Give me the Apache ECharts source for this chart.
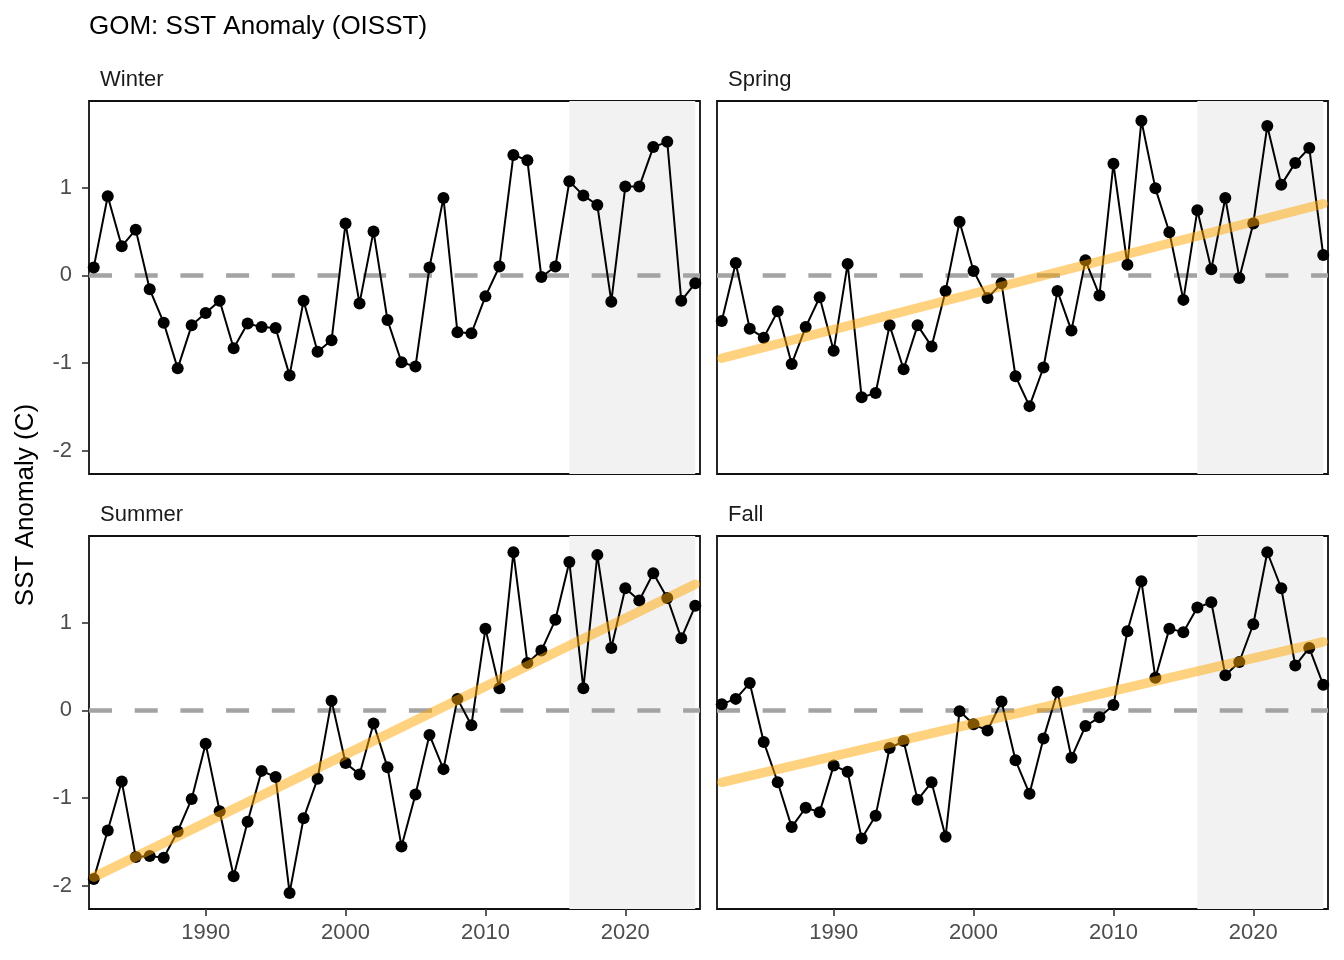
<!DOCTYPE html>
<html>
<head>
<meta charset="utf-8">
<script src="https://cdn.jsdelivr.net/npm/echarts@6/dist/echarts.min.js"></script>
<style>
  html, body { margin: 0; padding: 0; background: #fff; }
  #chart { width: 1344px; height: 960px; }
</style>
</head>
<body>
<div id="chart"></div>
<script>
// ---- data ----
const years = [1982,1983,1984,1985,1986,1987,1988,1989,1990,1991,
               1992,1993,1994,1995,1996,1997,1998,1999,2000,2001,
               2002,2003,2004,2005,2006,2007,2008,2009,2010,2011,
               2012,2013,2014,2015,2016,2017,2018,2019,2020,2021,
               2022,2023,2024,2025];
const winter = [0.09,0.90,0.33,0.52,-0.16,-0.54,-1.06,-0.57,-0.43,-0.29,
                -0.83,-0.55,-0.59,-0.60,-1.14,-0.29,-0.87,-0.74,0.59,-0.32,
                0.50,-0.51,-0.99,-1.04,0.09,0.88,-0.65,-0.66,-0.24,0.10,
                1.37,1.31,-0.02,0.10,1.07,0.91,0.80,-0.30,1.01,1.01,
                1.46,1.52,-0.29,-0.09];
const spring = [-0.52,0.14,-0.61,-0.71,-0.41,-1.01,-0.59,-0.25,-0.86,0.13,
                -1.39,-1.34,-0.57,-1.07,-0.57,-0.81,-0.18,0.61,0.05,-0.26,
                -0.09,-1.15,-1.49,-1.05,-0.18,-0.63,0.17,-0.23,1.27,0.12,
                1.76,0.99,0.49,-0.28,0.74,0.07,0.88,-0.03,0.59,1.70,
                1.03,1.28,1.45,0.23];
const summer = [-1.92,-1.37,-0.81,-1.67,-1.66,-1.68,-1.38,-1.01,-0.38,-1.15,
                -1.89,-1.27,-0.69,-0.76,-2.08,-1.23,-0.78,0.11,-0.60,-0.73,
                -0.15,-0.65,-1.55,-0.96,-0.28,-0.67,0.13,-0.17,0.93,0.25,
                1.80,0.54,0.68,1.03,1.69,0.25,1.77,0.71,1.39,1.25,
                1.56,1.28,0.82,1.19];
const fall   = [0.07,0.13,0.31,-0.36,-0.82,-1.33,-1.11,-1.16,-0.63,-0.70,
                -1.46,-1.20,-0.43,-0.35,-1.02,-0.82,-1.44,-0.01,-0.16,-0.23,
                0.10,-0.57,-0.95,-0.32,0.21,-0.54,-0.18,-0.08,0.06,0.90,
                1.47,0.37,0.93,0.89,1.17,1.23,0.40,0.55,0.98,1.80,
                1.39,0.51,0.71,0.29];
const trendYears   = [1982, 2025];
const springTrend  = [-0.945, 0.815];
const summerTrend  = [-1.90, 1.435];
const fallTrend    = [-0.82, 0.78];
const recentPeriod = [2016, 2025];
const xTicks = [1990, 2000, 2010, 2020];
const yTicks = [-2, -1, 0, 1];
const panelNames = ['Winter', 'Spring', 'Summer', 'Fall'];
const titleText = 'GOM: SST Anomaly (OISST)';
const yTitle = 'SST Anomaly (C)';

// ---- layout / style ----
const FONT = 'Liberation Sans, Arial, sans-serif';
const panels = [
  { left: 89,  top: 101 },
  { left: 717, top: 101 },
  { left: 89,  top: 536 },
  { left: 717, top: 536 }
];
const PW = 611, PH = 373;
const X_MIN = 1981.66, X_MAX = 2025.34;
const Y_MIN = -2.263, Y_MAX = 1.985;

const seriesValues = [winter, spring, summer, fall];
const trends = [null, springTrend, summerTrend, fallTrend];

const grids = [], xAxes = [], yAxes = [], series = [], graphics = [];

panels.forEach((p, i) => {
  const bottomRow = i >= 2, leftCol = i % 2 === 0;
  grids.push({
    left: p.left, top: p.top, width: PW, height: PH,
    show: true, borderColor: '#111', borderWidth: 1.8, backgroundColor: 'transparent',
    containLabel: false
  });
  xAxes.push({
    type: 'value', gridIndex: i, min: X_MIN, max: X_MAX, position: 'bottom',
    axisLine: { show: false, onZero: false },
    splitLine: { show: false },
    axisTick: { show: bottomRow, length: 7, lineStyle: { color: '#333', width: 1.6 }, customValues: xTicks },
    axisLabel: { show: bottomRow, margin: 13, color: '#4d4d4d', fontSize: 22, fontFamily: FONT, customValues: xTicks,
                 formatter: v => String(v) }
  });
  yAxes.push({
    type: 'value', gridIndex: i, min: Y_MIN, max: Y_MAX, position: 'left',
    axisLine: { show: false, onZero: false },
    splitLine: { show: false },
    axisTick: { show: leftCol, length: 7, lineStyle: { color: '#333', width: 1.6 }, customValues: yTicks },
    axisLabel: { show: leftCol, margin: 17, color: '#4d4d4d', fontSize: 22, fontFamily: FONT, customValues: yTicks,
                 formatter: v => String(v) }
  });

  // shading + zero reference line
  series.push({
    type: 'line', xAxisIndex: i, yAxisIndex: i, data: [], silent: true, z: 1,
    markArea: {
      silent: true,
      itemStyle: { color: '#f2f2f2' },
      data: [[{ xAxis: recentPeriod[0] }, { xAxis: recentPeriod[1] }]]
    },
    markLine: {
      silent: true, symbol: 'none', label: { show: false },
      lineStyle: { color: '#a3a3a3', width: 4.5, type: [23, 22.7] },
      data: [{ yAxis: 0 }]
    }
  });

  // anomaly series
  series.push({
    type: 'line', xAxisIndex: i, yAxisIndex: i, z: 10,
    data: years.map((y, k) => [y, seriesValues[i][k]]),
    symbol: 'circle', symbolSize: 12, showSymbol: true,
    itemStyle: { color: '#000' },
    lineStyle: { color: '#000', width: 2 },
    silent: true
  });

  // trend line
  if (trends[i]) {
    series.push({
      type: 'line', xAxisIndex: i, yAxisIndex: i, z: 12,
      data: trendYears.map((y, k) => [y, trends[i][k]]),
      symbol: 'none', silent: true,
      lineStyle: { color: 'rgba(255,165,0,0.5)', width: 9.5, cap: 'round' }
    });
  }

  // strip label
  graphics.push({
    type: 'text', x: p.left + 11, y: p.top - 21,
    style: { text: panelNames[i], font: '22px ' + FONT, fill: '#1a1a1a', textVerticalAlign: 'middle', textAlign: 'left' }
  });
});

graphics.push({
  type: 'text', x: 89, y: 27,
  style: { text: titleText, font: '26px ' + FONT, fill: '#000', textVerticalAlign: 'middle', textAlign: 'left' }
});
graphics.push({
  type: 'text', x: 26, y: 505, rotation: Math.PI / 2,
  style: { text: yTitle, font: '26px ' + FONT, fill: '#000', textVerticalAlign: 'middle', textAlign: 'center' }
});

const chart = echarts.init(document.getElementById('chart'), null, { renderer: 'canvas' });
chart.setOption({
  backgroundColor: '#fff',
  animation: false,
  grid: grids,
  xAxis: xAxes,
  yAxis: yAxes,
  series: series,
  graphic: graphics
});
</script>
</body>
</html>
